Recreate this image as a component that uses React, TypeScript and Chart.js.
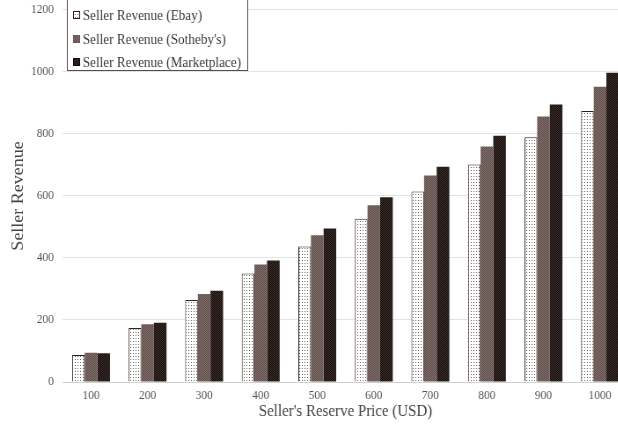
import React, { useEffect, useRef } from "react";
import { Chart, registerables } from "chart.js";

Chart.register(...registerables);

const categories = ["100", "200", "300", "400", "500", "600", "700", "800", "900", "1000"];
const ebayRevenue = [87, 174, 264, 350, 437, 526, 614, 701, 789, 874];
const sothebysRevenue = [94, 186, 284, 379, 473, 570, 666, 759, 856, 952];
const marketplaceRevenue = [93, 191, 294, 392, 495, 596, 694, 794, 895, 997];
const seriesLabels = [
  "Seller Revenue (Ebay)",
  "Seller Revenue (Sotheby's)",
  "Seller Revenue (Marketplace)",
];
const yTitle = "Seller Revenue";
const xTitle = "Seller's Reserve Price (USD)";

const SERIF = "'Liberation Serif', 'DejaVu Serif', serif";
const SX = 0.88; // horizontal squeeze of the whole figure
const CW = 730;
const CH = 437;
const SHIFT = 8;

function makePattern(bg: string, dot: string, size: number, checker: boolean) {
  const c = document.createElement("canvas");
  c.width = size;
  c.height = size;
  const ctx = c.getContext("2d")!;
  ctx.fillStyle = bg;
  ctx.fillRect(0, 0, size, size);
  ctx.fillStyle = dot;
  if (checker) {
    for (let y = 0; y < size; y++)
      for (let x = 0; x < size; x++) if ((x + y) % 2 === 0) ctx.fillRect(x, y, 1, 1);
  } else {
    ctx.fillRect(1, 1, 1, 1);
  }
  return ctx.createPattern(c, "repeat")!;
}

export default function App() {
  const ref = useRef<HTMLCanvasElement>(null);
  useEffect(() => {
    const canvas = ref.current!;
    const pEbay = makePattern("#ffffff", "#6a5e5a", 3, false);
    const pSoth = makePattern("#7f6e69", "#5f4e49", 2, true);
    const pMarket = makePattern("#140d0b", "#3e302c", 2, true);
    const fills = [pEbay, pSoth, pMarket];
    const borders = ["#2e201c", "#6e5d58", "#140d0b"];

    const legendPlugin = {
      id: "boxLegend",
      afterDraw(chart: any) {
        const ctx = chart.ctx;
        ctx.save();
        const x0 = 76.5, x1 = 281.5, yTop = -5, yBot = 78.5;
        ctx.fillStyle = "#ffffff";
        ctx.fillRect(x0, yTop, x1 - x0, yBot - yTop);
        ctx.strokeStyle = "#5e4a44";
        ctx.lineWidth = 1;
        ctx.strokeRect(x0, yTop, x1 - x0, yBot - yTop);
        ctx.font = `15px ${SERIF}`;
        ctx.textBaseline = "middle";
        ctx.textAlign = "left";
        const ys = [23, 47, 70];
        chart.data.datasets.forEach((ds: any, i: number) => {
          const y = ys[i];
          ctx.fillStyle = fills[i];
          ctx.fillRect(83, y - 4, 8, 8);
          ctx.strokeStyle = borders[i];
          ctx.strokeRect(83.5, y - 3.5, 7, 7);
          ctx.fillStyle = "#3a3a3a";
          ctx.fillText(ds.label, 94, y + 1);
        });
        ctx.restore();
      },
    };

    const chart = new Chart(canvas, {
      type: "bar",
      data: {
        labels: categories,
        datasets: [
          { label: seriesLabels[0], data: ebayRevenue, backgroundColor: pEbay, borderColor: borders[0], borderWidth: 1 },
          { label: seriesLabels[1], data: sothebysRevenue, backgroundColor: pSoth, borderColor: borders[1], borderWidth: 0 },
          { label: seriesLabels[2], data: marketplaceRevenue, backgroundColor: pMarket, borderColor: borders[2], borderWidth: 0 },
        ],
      },
      options: {
        responsive: false,
        animation: false,
        devicePixelRatio: 1,
        layout: { padding: { top: 2, right: 16, left: 0, bottom: 0 } },
        plugins: { legend: { display: false }, tooltip: { enabled: false } },
        datasets: { bar: { barPercentage: 1, categoryPercentage: 0.67 } },
        scales: {
          x: {
            grid: { display: false, drawTicks: false },
            border: { display: true, color: "#d0d0d0" },
            ticks: { color: "#555", font: { family: SERIF, size: 13 }, padding: 6, maxRotation: 0 },
            title: { display: true, text: xTitle, color: "#444", font: { family: SERIF, size: 17 }, padding: { top: 0, bottom: 7 } },
            afterFit(scale: any) { scale.height = 47; },
          },
          y: {
            min: 0,
            max: 1200,
            ticks: {
              stepSize: 200,
              color: "#555",
              font: { family: SERIF, size: 13 },
              padding: 10,
              callback: (v: any) => String(v),
            },
            grid: { color: "#e2e2e2", drawTicks: false },
            border: { display: false },
            title: { display: true, text: yTitle, color: "#444", font: { family: SERIF, size: 18 }, padding: { top: 10, bottom: 0 } },
            afterFit(scale: any) { scale.width = 71.3; },
          },
        },
      },
      plugins: [legendPlugin],
    });
    return () => chart.destroy();
  }, []);

  return (
    <div style={{ position: "fixed", left: 0, top: 0, width: 618, height: 429, overflow: "hidden", background: "#fff" }}>
      <canvas
        ref={ref}
        width={CW}
        height={CH}
        style={{
          display: "block",
          position: "absolute",
          left: 0,
          top: -SHIFT,
          width: CW,
          height: CH,
          transform: `scaleX(${SX})`,
          transformOrigin: "0 0",
        }}
      />
    </div>
  );
}
